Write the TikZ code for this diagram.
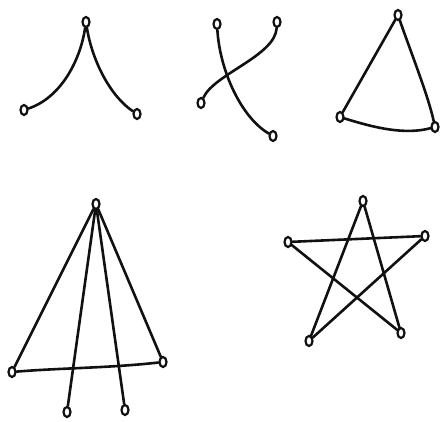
\documentclass[tikz,border=0pt]{standalone}
\usepackage{tikz}
\usetikzlibrary{shapes.geometric}
\definecolor{encre}{HTML}{111111}
\tikzset{
  sommet/.style={ellipse, draw=encre, fill=white, line width=2.2pt,
    minimum width=7pt, minimum height=10pt, inner sep=0pt},
  arete/.style={draw=encre, line width=2.6pt, line cap=round},
}
\begin{document}
\begin{tikzpicture}[x=1pt, y=-1pt]
  \fill[white] (0,0) rectangle (445,422);
  \useasboundingbox (0,0) rectangle (445,422);
  % Sommets
  \foreach \nom/\x/\y in {ah/86/22, ag/24/110, ad/137/114,
      bhg/217/24, bhd/277/22, bbg/201/103, bbd/273/136,
      ch/398/15, cg/340/117, cd/435/127,
      dh/96/204, dg/12/372, dd/163/362, dbg/67/412, dbd/125/410,
      eh/363/201, eg/288/242, ed/425/236, ebg/309/341, ebd/401/333} {
    \node[sommet] (\nom) at (\x,\y) {};
  }
  % Graphe 1
  \draw[arete] (ah) .. controls (80,62) and (60,98) .. (ag);
  \draw[arete] (ah) .. controls (92,60) and (110,96) .. (ad);
  % Graphe 2
  \draw[arete] (bhg) .. controls (220,72) and (242,118) .. (bbd);
  \draw[arete] (bhd) .. controls (275,56) and (214,74) .. (bbg);
  % Graphe 3
  \draw[arete] (ch) -- (cg);
  \draw[arete] (ch) .. controls (410,50) and (428,95) .. (cd);
  \draw[arete] (cg) .. controls (375,128) and (405,135) .. (cd);
  % Graphe 4
  \foreach \b in {dg, dd, dbg, dbd}
    \draw[arete] (dh) -- (\b);
  \draw[arete] (dg) .. controls (60,368) and (110,368) .. (dd);
  % Graphe 5
  \foreach \a/\b in {eh/ebg, eh/ebd, eg/ed, eg/ebd, ed/ebg}
    \draw[arete] (\a) -- (\b);
\end{tikzpicture}
\end{document}
